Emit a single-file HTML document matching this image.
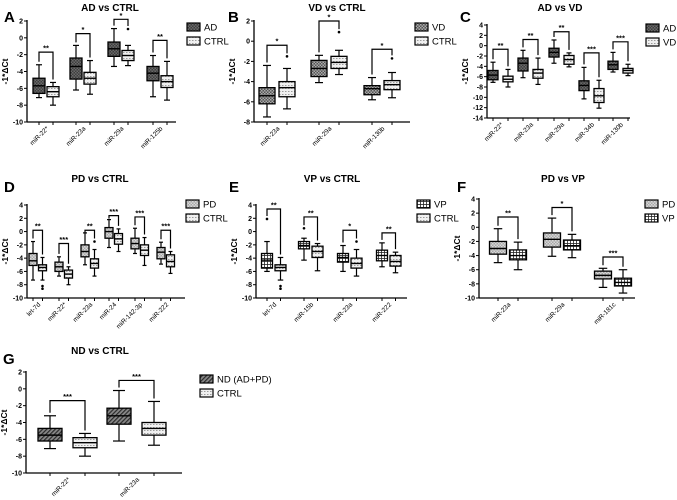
<!DOCTYPE html>
<html><head><meta charset="utf-8">
<style>
html,body{margin:0;padding:0;background:#fff;}
svg{display:block;font-family:"Liberation Sans",Arial,sans-serif;}
</style></head>
<body>
<svg id="fig" width="677" height="500" viewBox="0 0 677 500" xmlns="http://www.w3.org/2000/svg">
<defs>
<pattern id="pAD" width="3" height="3" patternUnits="userSpaceOnUse"><rect width="3" height="3" fill="#3e3e3e"/><rect width="1.5" height="1.5" fill="#6a6a6a"/><rect x="1.5" y="1.5" width="1.5" height="1.5" fill="#6a6a6a"/></pattern>
<pattern id="pCTRL" width="3" height="3" patternUnits="userSpaceOnUse"><rect width="3" height="3" fill="#f0f0f0"/><rect y="1" width="1.5" height="0.8" fill="#888"/></pattern>
<pattern id="pVD" width="3" height="3" patternUnits="userSpaceOnUse"><rect width="3" height="3" fill="#555"/><rect width="1.5" height="1.5" fill="#aaa"/><rect x="1.5" y="1.5" width="1.5" height="1.5" fill="#aaa"/></pattern>
<pattern id="pPD" width="3" height="3" patternUnits="userSpaceOnUse"><rect width="3" height="3" fill="#a8a8a8"/><rect width="1.5" height="1.5" fill="#d8d8d8"/><rect x="1.5" y="1.5" width="1.5" height="1.5" fill="#d8d8d8"/></pattern>
<pattern id="pVP" width="3" height="3" patternUnits="userSpaceOnUse"><rect width="3" height="3" fill="#fff"/><rect width="3" height="0.8" fill="#222"/><rect width="0.8" height="3" fill="#222"/></pattern>
<pattern id="pND" width="3" height="3" patternUnits="userSpaceOnUse" patternTransform="rotate(45)"><rect width="3" height="3" fill="#888"/><rect width="1.2" height="3" fill="#2a2a2a"/></pattern>
</defs>
</svg>
<script>
// ---- data (per panel) ----
const catsA = ["miR-22*","miR-23a","miR-29a","miR-125b"];
const seriesA = ["AD","CTRL"];
const boxesA1 = [[-7.1,-6.6,-5.7,-4.8,-3.2],[-6.2,-4.9,-3.4,-2.4,-0.9],[-3.4,-2.2,-1.3,-0.5,1.1],[-7,-5.1,-4.2,-3.4,-2.1]];
const boxesA2 = [[-8,-7,-6.4,-5.8,-5.3],[-6.7,-5.5,-4.8,-4.1,-2.7],[-3.3,-2.7,-2.1,-1.5,-0.9],[-7.4,-5.9,-5.2,-4.5,-2.8]];
const outA1 = [[],[],[],[]];
const outA2 = [[],[],[1.05],[]];
const sigA = ["**","*","*","**"];
const sigYA = [-1.7,0.5,2.2,-0.3];
const ticksA = [2,0,-2,-4,-6,-8,-10];

const catsB = ["miR-23a","miR-29a","miR-130b"];
const seriesB = ["VD","CTRL"];
const boxesB1 = [[-7.5,-6.2,-5.4,-4.6,-2.4],[-4.1,-3.5,-2.7,-1.9,-1.4],[-5.8,-5.3,-4.7,-4.4,-3.6]];
const boxesB2 = [[-6.7,-5.5,-4.6,-4.0,-2.7],[-3.3,-2.7,-2.1,-1.5,-0.9],[-5.6,-4.8,-4.3,-3.9,-3.1]];
const outB1 = [[],[],[]];
const outB2 = [[-1.5],[0.9],[-1.7]];
const sigB = ["*","*","*"];
const sigYB = [-0.4,2,-0.8];
const ticksB = [2,0,-2,-4,-6,-8];

const catsC = ["miR-22*","miR-23a","miR-29a","miR-34b","miR-130b"];
const seriesC = ["AD","VD"];
const boxesC1 = [[-7.1,-6.6,-5.7,-4.8,-3.2],[-6.2,-4.9,-3.4,-2.4,-0.9],[-3.4,-2.2,-1.3,-0.5,1.1],[-10.3,-8.7,-7.7,-6.8,-4.2],[-5.1,-4.6,-3.7,-3,-1.3]];
const boxesC2 = [[-8,-7,-6.5,-5.9,-4.6],[-7.5,-6.3,-5.3,-4.6,-2.4],[-4.1,-3.6,-2.7,-1.9,-1.4],[-12.1,-11,-9.7,-8.3,-6.7],[-5.8,-5.3,-4.8,-4.4,-3.6]];
const outC1 = [[],[],[],[],[]];
const outC2 = [[],[],[],[],[]];
const sigC = ["**","**","**","***","***"];
const sigYC = [-0.7,1.2,2.7,-1.4,0.75];
const ticksC = [4,2,0,-2,-4,-6,-8,-10,-12,-14];

const catsD = ["let-7d","miR-22*","miR-23a","miR-24","miR-142-3p","miR-222"];
const seriesD = ["PD","CTRL"];
const boxesD1 = [[-7.3,-5.1,-4.4,-3.3,-1.5],[-6.7,-6,-5.3,-4.6,-3.8],[-5,-3.8,-3,-2,-0.2],[-2.4,-1,0,0.6,1.8],[-3.3,-2.6,-1.8,-1,0.5],[-4.9,-4.1,-3.1,-2.4,-1.6]];
const boxesD2 = [[-7.3,-5.9,-5.4,-5,-3.9],[-8,-7,-6.4,-5.8,-5.3],[-6.7,-5.5,-4.8,-4.1,-2.7],[-3,-1.9,-1.1,-0.3,0.4],[-5.1,-3.6,-2.8,-2,-0.9],[-6.3,-5.3,-4.5,-3.5,-3]];
const outD1 = [[],[],[],[],[],[]];
const outD2 = [[-8.2,-8.6],[],[-1.5],[],[],[]];
const sigD = ["**","***","**","***","***","***"];
const sigYD = [0.2,-1.8,0.2,2.4,2.2,0.2];
const ticksD = [4,2,0,-2,-4,-6,-8,-10];

const catsE = ["let-7d","miR-15b","miR-23a","miR-222"];
const seriesE = ["VP","CTRL"];
const boxesE1 = [[-6,-5.5,-4.3,-3.3,-1.5],[-4.3,-2.6,-2.1,-1.5,-1],[-6,-4.6,-3.9,-3.3,-2.1],[-5.3,-4.4,-3.6,-2.8,-1.7]];
const boxesE2 = [[-7.3,-5.9,-5.4,-5,-3.9],[-5.9,-3.9,-3,-2.2,-1.8],[-6.7,-5.5,-4.8,-4,-2.7],[-6.2,-5.2,-4.5,-3.6,-3.1]];
const outE1 = [[1.9],[0.5],[],[]];
const outE2 = [[-8.2,-8.6],[],[-1.5],[]];
const sigE = ["**","**","*","**"];
const sigYE = [3.4,2.2,0.2,-0.2];
const ticksE = [4,2,0,-2,-4,-6,-8,-10];

const catsF = ["miR-23a","miR-29a","miR-181c"];
const seriesF = ["PD","VP"];
const boxesF1 = [[-5,-3.8,-3,-2,-0.2],[-4.1,-2.8,-1.7,-0.8,1.3],[-8.5,-7.3,-6.8,-6.2,-5.8]];
const boxesF2 = [[-6,-4.6,-4,-3.2,-2.1],[-4.3,-3.2,-2.6,-1.8,-1],[-9.3,-8.3,-7.8,-7.2,-6]];
const outF1 = [[],[],[]];
const outF2 = [[],[],[]];
const sigF = ["**","*","***"];
const sigYF = [1.45,2.8,-4.2];
const ticksF = [4,2,0,-2,-4,-6,-8,-10];

const catsG = ["miR-22*","miR-23a"];
const seriesG = ["ND (AD+PD)","CTRL"];
const boxesG1 = [[-7.1,-6.2,-5.5,-4.7,-3.2],[-6.2,-4.2,-3.2,-2.3,-0.2]];
const boxesG2 = [[-8,-7,-6.4,-5.8,-5.3],[-6.7,-5.5,-4.7,-4,-1.5]];
const outG1 = [[],[]];
const outG2 = [[],[]];
const sigG = ["***","***"];
const sigYG = [-1.4,1];
const ticksG = [2,0,-2,-4,-6,-8,-10];

// ---- layout ----
const panels = [
 {id:"a",letter:"A",lx:4,ly:22,title:"AD vs CTRL",tx:110,ty:11,ax:27,xEnd:176,yt:21,yb:122,vmax:2,vmin:-10,ticks:ticksA,cats:catsA,ser:seriesA,b1:boxesA1,b2:boxesA2,o1:outA1,o2:outA2,sig:sigA,sigY:sigYA,c1:[39,76,114,153],gap:14,bw:12,pat:["pAD","pCTRL"],legX:187,legY:27},
 {id:"b",letter:"B",lx:228,ly:22,title:"VD vs CTRL",tx:337,ty:11,ax:254,xEnd:410,yt:21,yb:122,vmax:2,vmin:-8,ticks:ticksB,cats:catsB,ser:seriesB,b1:boxesB1,b2:boxesB2,o1:outB1,o2:outB2,sig:sigB,sigY:sigYB,c1:[267,319,372],gap:20,bw:16,pat:["pVD","pCTRL"],legX:415,legY:27},
 {id:"c",letter:"C",lx:460,ly:22,title:"AD vs VD",tx:560,ty:11,ax:487,xEnd:630,yt:25,yb:118,vmax:4,vmin:-14,ticks:ticksC,cats:catsC,ser:seriesC,b1:boxesC1,b2:boxesC2,o1:outC1,o2:outC2,sig:sigC,sigY:sigYC,c1:[493,523,554,584,613],gap:15,bw:10,pat:["pAD","pCTRL"],legX:646,legY:28},
 {id:"d",letter:"D",lx:4,ly:192,title:"PD vs CTRL",tx:100,ty:182,ax:27,xEnd:185,yt:205,yb:298,vmax:4,vmin:-10,ticks:ticksD,cats:catsD,ser:seriesD,b1:boxesD1,b2:boxesD2,o1:outD1,o2:outD2,sig:sigD,sigY:sigYD,c1:[33,59,85,109,135,161],gap:9.5,bw:8,pat:["pPD","pCTRL"],legX:186,legY:204},
 {id:"e",letter:"E",lx:229,ly:192,title:"VP vs CTRL",tx:332,ty:182,ax:256,xEnd:407,yt:205,yb:298,vmax:4,vmin:-10,ticks:ticksE,cats:catsE,ser:seriesE,b1:boxesE1,b2:boxesE2,o1:outE1,o2:outE2,sig:sigE,sigY:sigYE,c1:[267,304,343,382],gap:13.5,bw:11,pat:["pVP","pCTRL"],legX:417,legY:204},
 {id:"f",letter:"F",lx:457,ly:192,title:"PD vs VP",tx:563,ty:182,ax:479,xEnd:635,yt:199,yb:298,vmax:4,vmin:-10,ticks:ticksF,cats:catsF,ser:seriesF,b1:boxesF1,b2:boxesF2,o1:outF1,o2:outF2,sig:sigF,sigY:sigYF,c1:[498,552,603],gap:20,bw:17,pat:["pPD","pVP"],legX:645,legY:204},
 {id:"g",letter:"G",lx:3,ly:364,title:"ND vs CTRL",tx:100,ty:354,ax:26,xEnd:182,yt:372,yb:473,vmax:2,vmin:-10,ticks:ticksG,cats:catsG,ser:seriesG,b1:boxesG1,b2:boxesG2,o1:outG1,o2:outG2,sig:sigG,sigY:sigYG,c1:[50,119],gap:35,bw:24,pat:["pND","pCTRL"],legX:200,legY:379}
];
const svg = document.getElementById('fig');
const NS = "http://www.w3.org/2000/svg";
function mk(tag, attrs, parent, text){
  const e = document.createElementNS(NS, tag);
  for (const k in attrs) e.setAttribute(k, attrs[k]);
  if (text !== undefined) e.textContent = text;
  parent.appendChild(e);
  return e;
}
panels.forEach(p => {
  const g = mk('g', {}, svg);
  
  
  const yS = v => p.yt + (p.vmax - v) / (p.vmax - p.vmin) * (p.yb - p.yt);
  const lt = mk('text', {x:p.lx, y:p.ly, 'font-size':15, 'font-weight':'bold'}, g, p.letter);
  
  
  const tt = mk('text', {x:p.tx, y:p.ty, 'font-size':10, 'font-weight':'bold', 'text-anchor':'middle'}, g, p.title);
  
  
  const ya = mk('line', {x1:p.ax, x2:p.ax, y1:yS(p.vmax)-1, y2:p.yb, stroke:'#000', 'stroke-width':1.3}, g);
  
  
  const xa = mk('line', {x1:p.ax, x2:p.xEnd, y1:p.yb, y2:p.yb, stroke:'#000', 'stroke-width':1.3}, g);
  
  
  p.ticks.forEach(t => {
    const y = yS(t);
    mk('line', {x1:p.ax-3, x2:p.ax, y1:y, y2:y, stroke:'#000', 'stroke-width':1}, g);
    const tl = mk('text', {x:p.ax-4, y:y+2.5, 'font-size':7, 'font-weight':'bold', 'text-anchor':'end'}, g, String(t));
    
    
  });
  const ym = (p.yt + p.yb) / 2;
  const yl = mk('text', {x:0, y:0, 'font-size':8.5, 'font-weight':'bold', 'text-anchor':'middle', transform:`translate(${p.ax-19},${ym}) rotate(-90)`}, g, '-1*ΔCt');
  
  
  p.cats.forEach((c, i) => {
    const cx = [p.c1[i], p.c1[i] + p.gap];
    const bx = [p.b1[i], p.b2[i]];
    const outs = [p.o1[i], p.o2[i]];
    [0,1].forEach(s => {
      const d = bx[s], x = cx[s], w = p.bw;
      const bg = mk('g', {}, g);
      
      
      mk('line', {x1:x, x2:x, y1:yS(d[0]), y2:yS(d[4]), stroke:'#000', 'stroke-width':1.2}, bg);
      mk('line', {x1:x-w/4, x2:x+w/4, y1:yS(d[0]), y2:yS(d[0]), stroke:'#000', 'stroke-width':1.2}, bg);
      mk('line', {x1:x-w/4, x2:x+w/4, y1:yS(d[4]), y2:yS(d[4]), stroke:'#000', 'stroke-width':1.2}, bg);
      mk('rect', {x:x-w/2, y:yS(d[3]), width:w, height:yS(d[1])-yS(d[3]), fill:`url(#${p.pat[s]})`, stroke:'#000', 'stroke-width':1.3}, bg);
      mk('line', {x1:x-w/2, x2:x+w/2, y1:yS(d[2]), y2:yS(d[2]), stroke:'#000', 'stroke-width':1.4}, bg);
      outs[s].forEach(o => {
        const od = mk('circle', {cx:x, cy:yS(o), r:1.3, fill:'#000'}, g);
        
        
      });
      mk('line', {x1:x, x2:x, y1:p.yb, y2:p.yb+3, stroke:'#000', 'stroke-width':1}, g);
    });
    const by = yS(p.sigY[i]);
    const topL = Math.max(p.b1[i][4], ...p.o1[i].filter(v=>v>p.b1[i][4]));
    const topR = Math.max(p.b2[i][4], ...p.o2[i].filter(v=>v>p.b2[i][4]));
    const sg = mk('g', {}, g);
    
    
    const yL = Math.max(by + 3, yS(topL) - 3), yR = Math.max(by + 3, yS(topR) - 3);
    mk('polyline', {points:`${cx[0]},${yL} ${cx[0]},${by} ${cx[1]},${by} ${cx[1]},${yR}`, fill:'none', stroke:'#000', 'stroke-width':1.2}, sg);
    mk('text', {x:(cx[0]+cx[1])/2, y:by-1.5, 'font-size':7.5, 'font-weight':'bold', 'text-anchor':'middle'}, sg, p.sig[i]);
    const gc = (cx[0] + cx[1]) / 2;
    const cl = mk('text', {x:0, y:0, 'font-size':6.5, 'text-anchor':'end', transform:`translate(${gc+3},${p.yb+7}) rotate(-45)`}, g, c);
    
    
  });
  p.ser.forEach((s, k) => {
    const lg = mk('g', {}, g);
    
    
    const y = p.legY + k * 14;
    mk('rect', {x:p.legX, y:y-4, width:13, height:8, fill:`url(#${p.pat[k]})`, stroke:'#000', 'stroke-width':1.2}, lg);
    mk('text', {x:p.legX+17, y:y+3.5, 'font-size':9.5}, lg, s);
  });
});
</script>
</body></html>
